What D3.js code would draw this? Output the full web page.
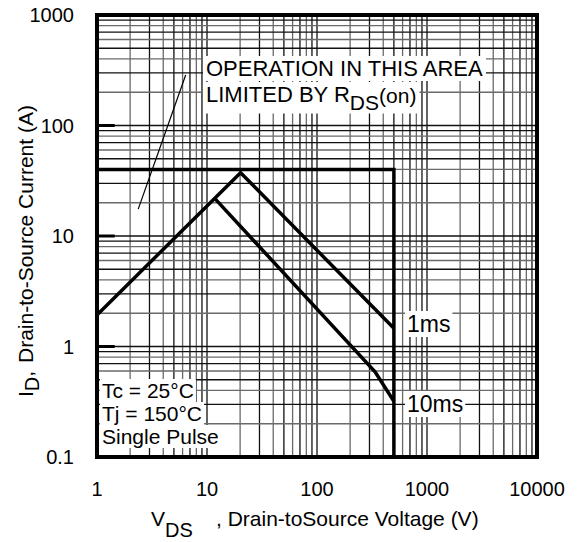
<!DOCTYPE html>
<html>
<head>
<meta charset="utf-8">
<script src="https://cdn.jsdelivr.net/npm/d3@7"></script>
<style>
  body { margin: 0; background: #fff; }
  text { font-family: "Liberation Sans", Arial, sans-serif; fill: #000; }
</style>
</head>
<body>
<div id="d3-container"></div>
<script>
/**
 * CONSTANTS AND GLOBALS
 * */
const width = 578,
  height = 542,
  margin = { top: 15, bottom: 85, left: 97, right: 41 };

// axis ticks
const vdsTicks = [1, 10, 100, 1000, 10000];
const idTicks = [0.1, 1, 10, 100, 1000];

// package / voltage limit (40 A, 500 V)
const limitVds = [1, 500, 500];
const limitId = [40, 40, 0.1];

// 1ms curve (starts on the Rds(on) line)
const ms1Vds = [1, 20.2, 500];
const ms1Id = [1.93, 37.4, 1.46];

// 10ms curve
const ms10Vds = [11.8, 337, 500];
const ms10Id = [21.8, 0.59, 0.32];

// pointer line to the Rds(on) note
const noteVds = [6.4, 2.37];
const noteId = [286, 17.5];

let svg, x, y;

/**
 * INIT
 * */
function init() {
  svg = d3.select("#d3-container")
    .append("svg")
    .attr("width", width)
    .attr("height", height);

  x = d3.scaleLog().domain([1, 10000]).range([margin.left, width - margin.right]);
  y = d3.scaleLog().domain([0.1, 1000]).range([height - margin.bottom, margin.top]);

  // minor + major grid values
  const gridX = [];
  for (let d = 1; d < 10000; d *= 10) for (let k = 1; k < 10; k++) gridX.push({ v: d * k, k });
  const gridY = [];
  for (let d = 0.1; d < 999; d *= 10) for (let k = 1; k < 10; k++) gridY.push({ v: +(d * k).toPrecision(3), k });

  const grid = svg.append("g");
  grid.selectAll("line.gx")
    .data(gridX)
    .join("line")
    .attr("class", "gx")
    .attr("x1", d => x(d.v)).attr("x2", d => x(d.v))
    .attr("y1", y(0.1)).attr("y2", y(1000))
    .attr("stroke", d => (d.k % 2 === 1 ? "#111" : "#6a6a6a"))
    .attr("stroke-width", 1.3);
  grid.selectAll("line.gy")
    .data(gridY)
    .join("line")
    .attr("class", "gy")
    .attr("y1", d => y(d.v)).attr("y2", d => y(d.v))
    .attr("x1", x(1)).attr("x2", x(10000))
    .attr("stroke", d => (d.k % 2 === 1 ? "#111" : "#6a6a6a"))
    .attr("stroke-width", 1.3);

  // short thick stubs on the left at decades
  grid.selectAll("line.stub")
    .data([1, 10, 100])
    .join("line")
    .attr("class", "stub")
    .attr("x1", x(1)).attr("x2", x(1.45))
    .attr("y1", d => y(d)).attr("y2", d => y(d))
    .attr("stroke", "#000").attr("stroke-width", 3);

  // tick labels
  svg.append("g")
    .selectAll("text")
    .data(idTicks)
    .join("text")
    .attr("x", 74)
    .attr("y", d => y(d))
    .attr("dy", "0.36em")
    .attr("text-anchor", "end")
    .attr("font-size", 20)
    .text(d => d);
  svg.append("g")
    .selectAll("text")
    .data(vdsTicks)
    .join("text")
    .attr("x", d => x(d))
    .attr("y", 496)
    .attr("text-anchor", "middle")
    .attr("font-size", 20)
    .text(d => d);

  const line = d3.line().x(d => x(d[0])).y(d => y(d[1]));
  const curves = svg.append("g")
    .attr("fill", "none")
    .attr("stroke", "#000")
    .attr("stroke-linejoin", "miter");

  curves.append("path")
    .attr("d", line(limitVds.map((v, i) => [v, limitId[i]])))
    .attr("stroke-width", 3.5);
  curves.append("path")
    .attr("d", line(ms1Vds.map((v, i) => [v, ms1Id[i]])))
    .attr("stroke-width", 3.5);
  curves.append("path")
    .attr("d", line(ms10Vds.map((v, i) => [v, ms10Id[i]])))
    .attr("stroke-width", 3.5);
  curves.append("path")
    .attr("d", line(noteVds.map((v, i) => [v, noteId[i]])))
    .attr("stroke-width", 1.2);

  // frame
  svg.append("rect")
    .attr("x", x(1)).attr("y", y(1000))
    .attr("width", x(10000) - x(1))
    .attr("height", y(0.1) - y(1000))
    .attr("fill", "none")
    .attr("stroke", "#000")
    .attr("stroke-width", 4);

  // labels with white backing
  const notes = svg.append("g");
  function boxed(xp, yp, size, parts, pad) {
    const g = notes.append("g");
    const r = g.append("rect").attr("fill", "#fff");
    const t = g.append("text").attr("x", xp).attr("y", yp).attr("font-size", size);
    parts.forEach(p => {
      t.append("tspan")
        .attr("dy", p.dy || 0)
        .attr("font-size", p.size || size)
        .text(p.t);
    });
    const b = t.node().getBBox();
    r.attr("x", b.x - pad[0]).attr("y", b.y - pad[1])
      .attr("width", b.width + pad[0] * 2).attr("height", b.height + pad[1] * 2);
  }

  boxed(206, 76, 22, [{ t: "OPERATION IN THIS AREA" }], [3, 0]);
  boxed(206, 102, 22, [{ t: "LIMITED BY R" }, { t: "DS", dy: 7.5, size: 21 }, { t: "(on)", dy: -6.5, size: 21 }], [3, 0]);
  boxed(407, 332, 23, [{ t: "1ms" }], [2, 0]);
  boxed(407, 412, 23, [{ t: "10ms" }], [2, 0]);
  boxed(102, 398, 21, [{ t: "Tc = 25°C" }], [2, 0]);
  boxed(102, 421, 21, [{ t: "Tj = 150°C" }], [2, 0]);
  boxed(102, 444, 21, [{ t: "Single Pulse" }], [2, 0]);

  // axis titles
  const xt = svg.append("text").attr("x", 151).attr("y", 526).attr("font-size", 21);
  xt.append("tspan").text("V");
  xt.append("tspan").attr("dy", 11).attr("font-size", 20).text("DS");
  svg.append("text").attr("x", 216).attr("y", 526).attr("font-size", 21)
    .text(", Drain-toSource Voltage (V)");

  const yt = svg.append("text")
    .attr("transform", "translate(33,397) rotate(-90)")
    .attr("font-size", 21);
  yt.append("tspan").text("I");
  yt.append("tspan").attr("dy", 6).attr("font-size", 20).text("D");
  yt.append("tspan").attr("dy", -6).text(",");
  svg.append("text")
    .attr("transform", "translate(33,363) rotate(-90)")
    .attr("font-size", 21)
    .text("Drain-to-Source Current (A)");
}

init();
</script>
</body>
</html>
